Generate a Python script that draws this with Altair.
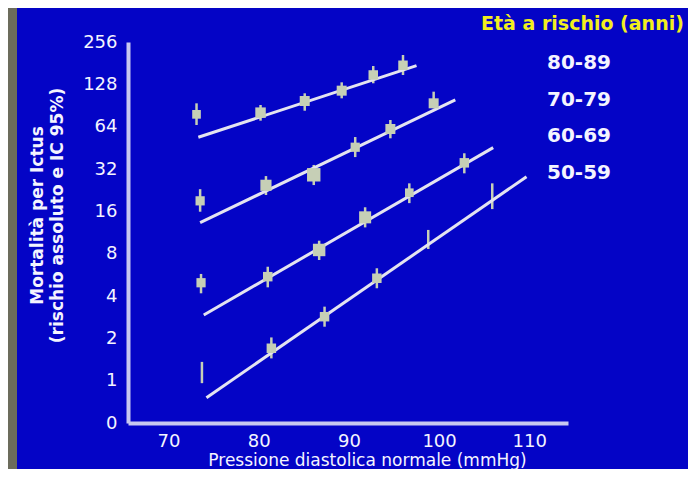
import altair as alt
import pandas as pd

# ---------------- data ----------------
ages = ["80-89", "70-79", "60-69", "50-59"]

x_80 = [73.1, 80.2, 85.1, 89.2, 92.7, 96.0]
y_80 = [78.3, 80.5, 97.4, 115.4, 149.2, 174.9]
lo_80 = [65.8, 70.6, 83.1, 101.8, 130.2, 149.2]
hi_80 = [93.8, 91.3, 110.5, 132.3, 172.8, 207.0]
box_80 = [75, 110, 100, 100, 90, 90]

x_70 = [73.5, 80.8, 86.1, 90.7, 94.6, 99.4]
y_70 = [19.0, 24.5, 29.1, 45.7, 61.6, 93.8]
lo_70 = [15.9, 20.9, 24.6, 38.9, 52.9, 86.5]
hi_70 = [23.0, 28.5, 34.2, 54.0, 71.4, 113.5]
box_70 = [85, 125, 180, 85, 100, 100]

x_60 = [73.6, 81.0, 86.7, 91.8, 96.7, 102.8]
y_60 = [4.97, 5.49, 8.50, 14.5, 21.7, 35.4]
lo_60 = [4.18, 4.61, 7.21, 12.3, 18.3, 29.8]
hi_60 = [5.74, 6.46, 9.89, 17.1, 25.3, 41.4]
box_60 = [85, 90, 155, 145, 75, 90]

x_50 = [73.7, 81.4, 87.3, 93.1, 98.8, 105.9]
y_50 = [1.14, 1.70, 2.85, 5.35, 10.1, 20.6]
lo_50 = [0.96, 1.44, 2.42, 4.54, 8.64, 16.6]
hi_50 = [1.36, 2.03, 3.36, 6.30, 11.8, 25.3]
box_50 = [0, 90, 90, 90, 0, 0]

# fitted lines: start and end points
fit_x0 = [73.3, 73.5, 73.9, 74.2]
fit_y0 = [53.8, 13.3, 2.93, 0.757]
fit_x1 = [97.5, 101.8, 106.0, 109.7]
fit_y1 = [173.7, 99.1, 45.4, 28.2]

y_ticks = [0.5, 1, 2, 4, 8, 16, 32, 64, 128, 256]
x_ticks = [70, 80, 90, 100, 110]

# ---------------- tables ----------------
series = {
    "80-89": (x_80, y_80, lo_80, hi_80, box_80),
    "70-79": (x_70, y_70, lo_70, hi_70, box_70),
    "60-69": (x_60, y_60, lo_60, hi_60, box_60),
    "50-59": (x_50, y_50, lo_50, hi_50, box_50),
}
rows = []
for age, (xs, ys, los, his, boxes) in series.items():
    for a, b, c, d, e in zip(xs, ys, los, his, boxes):
        rows.append({"age": age, "x": a, "y": b, "lo": c, "hi": d, "box": e})
pts = pd.DataFrame(rows)

lrows = []
for age, a, b, c, d in zip(ages, fit_x0, fit_y0, fit_x1, fit_y1):
    lrows.append({"age": age, "x": a, "y": b, "o": 0})
    lrows.append({"age": age, "x": c, "y": d, "o": 1})
lines = pd.DataFrame(lrows)

# ---------------- style ----------------
FONT = "DejaVu Sans"
BLUE = "#0404c6"
OLIVE = "#6c6c5c"
AXC = "#c8c8f0"
BOXC = "#c6cfb6"
LINEC = "#e4e4f0"
YEL = "#f2ee1e"
TXT = "#f4f4ff"

xscale = alt.Scale(domain=[65.5, 114.3], nice=False, zero=False)
yscale = alt.Scale(type="log", base=2, domain=[0.5, 256], nice=False)

xaxis = alt.Axis(
    values=x_ticks, grid=False, ticks=False, tickSize=0, zindex=1,
    domainColor=AXC, domainWidth=4,
    labelColor=TXT, labelFont=FONT, labelFontSize=18, labelBaseline="middle",
    labelPadding=18, labelFlush=False, labelOverlap=False,
    title="Pressione diastolica normale (mmHg)", titleColor=TXT, titleFont=FONT,
    titleFontSize=17, titleFontWeight="normal", titleX=239, titleY=42,
    titleAlign="center", titleBaseline="alphabetic",
)
yaxis = alt.Axis(
    values=y_ticks, grid=False, ticks=False, tickSize=0, zindex=1,
    domainColor=AXC, domainWidth=4,
    labelExpr="datum.value < 0.9 ? '0' : format(datum.value, 'd')",
    labelColor=TXT, labelFont=FONT, labelFontSize=18, labelPadding=11,
    labelFlush=False, labelOverlap=False,
    title=["Mortalità per Ictus", "(rischio assoluto e IC 95%)"],
    titleColor=TXT, titleFont=FONT, titleFontSize=17, titleFontWeight="bold",
    titleLineHeight=20, titleAngle=270, titleX=-91, titleY=173,
    titleAlign="center", titleBaseline="middle",
)

bg = alt.Chart(alt.Data(values=[{}])).mark_rect(color=BLUE).encode(
    x=alt.value(-111), x2=alt.value(570), y=alt.value(-45), y2=alt.value(440)
)

bars = alt.Chart(pts).mark_rule(color=BOXC, strokeWidth=2.5).encode(
    x=alt.X("x:Q", scale=xscale, axis=xaxis),
    y=alt.Y("lo:Q", scale=yscale, axis=yaxis),
    y2="hi:Q",
)

boxes = alt.Chart(pts).transform_filter("datum.box > 0").mark_square(
    color=BOXC, opacity=1
).encode(
    x=alt.X("x:Q", scale=xscale, axis=xaxis),
    y=alt.Y("y:Q", scale=yscale, axis=yaxis),
    size=alt.Size("box:Q", scale=None),
)

fits = alt.Chart(lines).mark_line(strokeWidth=3).encode(
    x=alt.X("x:Q", scale=xscale, axis=xaxis),
    y=alt.Y("y:Q", scale=yscale, axis=yaxis),
    order="o:Q",
    color=alt.Color(
        "age:N",
        scale=alt.Scale(domain=ages, range=[LINEC] * 4),
        legend=alt.Legend(
            orient="none", legendX=353, legendY=-27, padding=0, zindex=1,
            title="Età a rischio (anni)", titleColor=YEL, titleFont=FONT,
            titleFontSize=19, titleFontWeight="bold", titlePadding=19,
            titleLimit=400,
            labelColor=TXT, labelFont=FONT, labelFontSize=20,
            labelFontWeight="bold", labelOffset=46, rowPadding=16.5,
            symbolOpacity=0, symbolStrokeWidth=0, symbolSize=100,
        ),
    ),
)

chart = alt.layer(bg, bars, fits, boxes).properties(
    width=440,
    height=381,
    padding={"left": 120, "top": 34, "right": 120, "bottom": 46},
    autosize=alt.AutoSizeParams(type="none"),
    background=OLIVE,
).configure_view(strokeWidth=0)

chart.save("out.html", embed_options={"renderer": "svg", "actions": False})
